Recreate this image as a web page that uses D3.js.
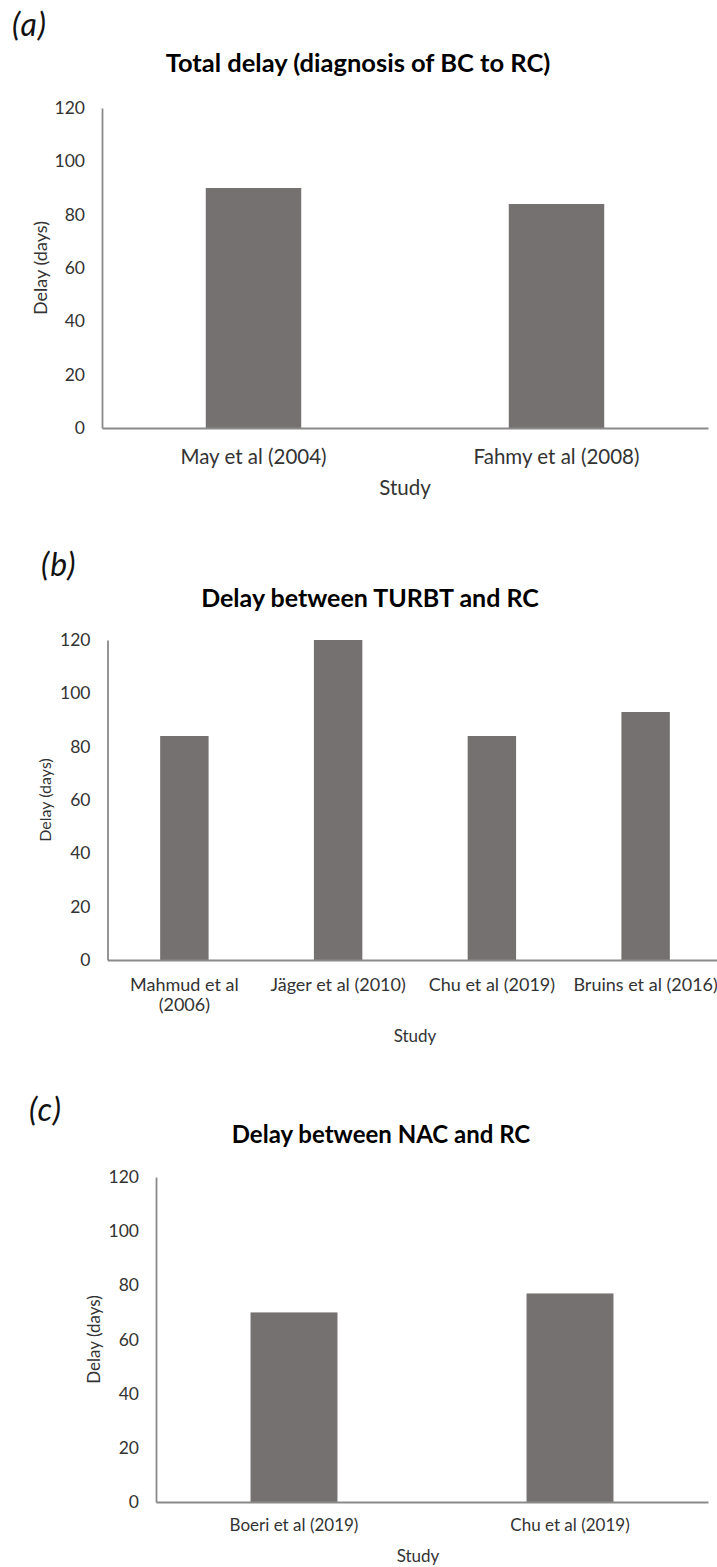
<!DOCTYPE html>
<html>
<head>
<meta charset="utf-8">
<script src="https://cdn.jsdelivr.net/npm/d3@7"></script>
<style>
  html, body { margin: 0; padding: 0; background: #fff; overflow: hidden; }
  svg { display: block; font-family: Lato, "Open Sans", sans-serif; }
</style>
</head>
<body>
<svg id="fig" width="717" height="1567"></svg>
<script>
// Panel (a): total delay from diagnosis of BC to RC
const studiesA = ["May et al (2004)", "Fahmy et al (2008)"];
const delaysA = [90, 84];

// Panel (b): delay between TURBT and RC
const studiesB = ["Mahmud et al (2006)", "Jäger et al (2010)", "Chu et al (2019)", "Bruins et al (2016)"];
const delaysB = [84, 120, 84, 93];

// Panel (c): delay between NAC and RC
const studiesC = ["Boeri et al (2019)", "Chu et al (2019)"];
const delaysC = [70, 77];

const yTicks = [0, 20, 40, 60, 80, 100, 120];
const yDomain = [0, 120];

const svg = d3.select("#fig");

const BAR = "#767171";
const AXIS = "#8a8a8a";
const TXT = "#333333";

function panel(cfg) {
  const g = svg.append("g");

  // panel letter
  g.append("text")
    .attr("x", cfg.letterX).attr("y", cfg.letterY)
    .attr("font-size", 32).attr("font-style", "italic")
    .attr("letter-spacing", 1)
    .attr("fill", "#111")
    .text(cfg.letter);

  // title
  g.append("text")
    .attr("x", cfg.titleX).attr("y", cfg.titleY)
    .attr("text-anchor", "middle")
    .attr("font-size", cfg.titleSize).attr("font-weight", "bold")
    .attr("fill", "#000")
    .text(cfg.title);

  const x = d3.scaleBand()
    .domain(cfg.cats)
    .range([cfg.left, cfg.right])
    .paddingInner(0.685)
    .paddingOuter(0.3425);

  const y = d3.scaleLinear().domain(yDomain).range([cfg.bottom, cfg.top]);

  // bars
  g.selectAll("rect.bar")
    .data(cfg.vals)
    .join("rect")
    .attr("class", "bar")
    .attr("x", (d, i) => x(cfg.cats[i]))
    .attr("width", x.bandwidth())
    .attr("y", d => y(d))
    .attr("height", d => y(0) - y(d))
    .attr("fill", BAR);

  // y axis
  const yAxis = g.append("g")
    .attr("transform", `translate(${cfg.left},0)`)
    .call(d3.axisLeft(y).tickValues(yTicks).tickSize(0).tickPadding(17));
  yAxis.select(".domain").attr("stroke", AXIS).attr("stroke-width", 1.8);
  yAxis.selectAll("text")
    .attr("font-size", 17.5).attr("fill", TXT)
    .attr("font-family", "Lato, 'Open Sans', sans-serif");

  // x axis
  const xAxis = g.append("g")
    .attr("transform", `translate(0,${cfg.bottom})`)
    .call(d3.axisBottom(x).tickSize(0).tickPadding(0));
  xAxis.select(".domain").attr("stroke", AXIS).attr("stroke-width", 1.8);
  xAxis.selectAll("text")
    .attr("font-size", cfg.catSize).attr("fill", TXT)
    .attr("font-family", "Lato, 'Open Sans', sans-serif")
    .attr("dy", null)
    .attr("y", cfg.catBase)
    .each(function(d) {
      const wrap = cfg.wrap && cfg.wrap[d];
      if (!wrap) return;
      const t = d3.select(this);
      t.text(null);
      wrap.forEach((line, k) => {
        t.append("tspan").attr("x", 0).attr("y", cfg.catBase + k * cfg.lineGap).text(line);
      });
    });

  // axis titles
  g.append("text")
    .attr("x", cfg.xTitleX).attr("y", cfg.xTitleY)
    .attr("text-anchor", "middle")
    .attr("font-size", cfg.axisTitleSize).attr("fill", TXT)
    .text("Study");

  g.append("text")
    .attr("transform", `translate(${cfg.yTitleX},${(cfg.top + cfg.bottom) / 2}) rotate(-90)`)
    .attr("text-anchor", "middle")
    .attr("font-size", cfg.yTitleSize).attr("fill", TXT)
    .text("Delay (days)");
}

panel({
  letter: "(a)", letterX: 12, letterY: 36,
  title: "Total delay (diagnosis of BC to RC)", titleX: 358, titleY: 72, titleSize: 25.5,
  cats: studiesA, vals: delaysA,
  left: 102, right: 708, top: 108, bottom: 428,
  catSize: 20.5, catBase: 36,
  xTitleX: 405, xTitleY: 495, axisTitleSize: 20.5,
  yTitleX: 47, yTitleSize: 18
});

panel({
  letter: "(b)", letterX: 41, letterY: 576,
  title: "Delay between TURBT and RC", titleX: 370, titleY: 607, titleSize: 25,
  cats: studiesB, vals: delaysB,
  left: 107.5, right: 722.5, top: 640, bottom: 960,
  catSize: 18, catBase: 31, lineGap: 20,
  wrap: { "Mahmud et al (2006)": ["Mahmud et al", "(2006)"] },
  xTitleX: 415, xTitleY: 1042, axisTitleSize: 17,
  yTitleX: 51, yTitleSize: 16
});

panel({
  letter: "(c)", letterX: 29, letterY: 1121,
  title: "Delay between NAC and RC", titleX: 381, titleY: 1143, titleSize: 24,
  cats: studiesC, vals: delaysC,
  left: 156, right: 708, top: 1177, bottom: 1502,
  catSize: 17, catBase: 29,
  xTitleX: 418, xTitleY: 1562, axisTitleSize: 17,
  yTitleX: 100, yTitleSize: 17
});
</script>
</body>
</html>
